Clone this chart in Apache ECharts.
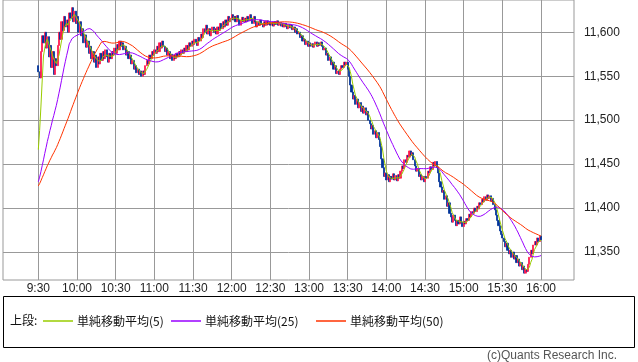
<!DOCTYPE html>
<html>
<head>
<meta charset="utf-8">
<script src="https://cdn.jsdelivr.net/npm/echarts@6/dist/echarts.min.js"></script>
<style>
html,body{margin:0;padding:0;background:#fff;}
#chart{width:638px;height:362px;}
</style>
</head>
<body>
<div id="chart"></div>
<script>
// x tick labels (every 30 minutes from 9:30)
const xTickLabels = ['9:30','10:00','10:30','11:00','11:30','12:00','12:30','13:00','13:30','14:00','14:30','15:00','15:30','16:00'];
const yTicks = [11350, 11400, 11450, 11500, 11550, 11600];
// previous session closes (used only for moving averages)
const prevCloses = [
11418,11421,11419,11423,11420,11417,11422,11424,11420,11418,
11421,11425,11422,11419,11416,11420,11423,11421,11418,11420,
11424,11422,11419,11421,11418,11420,11423,11425,11421,11419,
11417,11420,11422,11424,11421,11418,11420,11423,11421,11419,
11422,11420,11418,11421,11424,11440,11444,11448,11446];
const firstOpen = 11562;
// 1-minute closes, 9:30 .. 16:00
const closes = [
11555,11548,11578,11596,11588,11600,11582,11595,11572,11585,
11560,11578,11552,11570,11562,11585,11600,11592,11612,11602,
11618,11606,11614,11600,11622,11616,11628,11612,11624,11610,
11618,11600,11612,11596,11604,11588,11597,11583,11590,11576,
11584,11570,11578,11566,11574,11560,11572,11564,11576,11568,
11578,11570,11580,11572,11566,11576,11570,11578,11574,11582,
11576,11586,11580,11590,11584,11588,11580,11584,11574,11578,
11570,11574,11564,11568,11558,11562,11554,11558,11552,11556,
11550,11556,11552,11562,11568,11564,11574,11570,11578,11574,
11580,11576,11584,11578,11588,11582,11590,11584,11578,11582,
11574,11578,11570,11575,11568,11574,11570,11576,11572,11578,
11574,11580,11576,11582,11578,11585,11580,11588,11584,11590,
11586,11592,11588,11585,11594,11590,11598,11594,11604,11600,
11608,11598,11604,11596,11602,11606,11600,11604,11598,11606,
11602,11610,11604,11612,11606,11614,11608,11618,11612,11616,
11620,11614,11618,11612,11619,11615,11608,11614,11617,11612,
11616,11612,11618,11613,11620,11616,11610,11618,11612,11606,
11612,11608,11614,11609,11606,11612,11608,11613,11609,11612,
11608,11611,11607,11612,11609,11613,11608,11611,11607,11610,
11606,11610,11607,11604,11609,11605,11608,11603,11606,11600,
11604,11598,11600,11594,11596,11590,11592,11586,11590,11584,
11588,11584,11587,11583,11586,11589,11584,11588,11585,11589,
11584,11580,11582,11574,11576,11568,11572,11563,11566,11558,
11562,11553,11556,11552,11558,11562,11560,11566,11563,11566,
11558,11550,11540,11532,11524,11528,11518,11524,11514,11520,
11510,11516,11508,11514,11506,11510,11500,11496,11490,11494,
11484,11488,11480,11486,11478,11470,11456,11446,11436,11440,
11432,11438,11430,11436,11433,11439,11432,11437,11431,11438,
11434,11442,11448,11445,11455,11452,11460,11458,11465,11460,
11463,11455,11448,11442,11445,11436,11438,11432,11436,11430,
11436,11434,11442,11440,11447,11444,11452,11448,11453,11446,
11440,11430,11424,11418,11420,11410,11414,11402,11406,11394,
11390,11384,11392,11386,11380,11386,11382,11390,11384,11379,
11385,11382,11388,11386,11393,11390,11396,11394,11400,11396,
11402,11399,11406,11404,11410,11407,11413,11409,11415,11411,
11414,11408,11411,11404,11398,11392,11386,11380,11374,11370,
11366,11362,11356,11360,11352,11348,11352,11344,11350,11342,
11346,11338,11342,11334,11338,11330,11334,11326,11330,11328,
11336,11344,11352,11348,11358,11362,11358,11366,11362,11368,
11364];

const maNames = ['単純移動平均(5)', '単純移動平均(25)', '単純移動平均(50)'];
const maPeriods = [5, 25, 50];
const maColors = ['#99cc00', '#9900ff', '#ff3300'];

const allCloses = prevCloses.concat(closes);
function sma(n) {
  const off = prevCloses.length;
  return closes.map((c, i) => {
    let s = 0;
    for (let k = 0; k < n; k++) s += allCloses[off + i - k];
    return [i, s / n];
  });
}

const candles = closes.map((c, i) => {
  const o = i === 0 ? firstOpen : closes[i - 1];
  return [i, o, c, Math.min(o, c), Math.max(o, c)];
});

const xTickValues = xTickLabels.map((_, i) => i * 30);
const gridColor = '#999999';
const chart = echarts.init(document.getElementById('chart'), null, {renderer: 'canvas'});

const option = {
  animation: false,
  backgroundColor: '#ffffff',
  grid: {left: 3, right: 64, top: 0, bottom: 82, show: true, borderColor: gridColor, borderWidth: 1},
  xAxis: {
    type: 'value', min: -27.4, max: 415.6,
    axisLine: {show: false},
    axisTick: {show: false, customValues: xTickValues},
    splitLine: {show: true, lineStyle: {color: gridColor, width: 1}},
    axisLabel: {
      customValues: xTickValues, margin: 3, color: '#222',
      fontSize: 12, fontFamily: 'Liberation Sans, Arial, sans-serif',
      formatter: v => xTickLabels[Math.round(v / 30)] || ''
    }
  },
  yAxis: {
    type: 'value', position: 'right', min: 11318.2, max: 11636.7, scale: true,
    axisLine: {show: false},
    axisTick: {show: true, length: 6, customValues: yTicks, lineStyle: {color: gridColor}},
    splitLine: {show: true, lineStyle: {color: gridColor, width: 1}},
    axisLabel: {
      customValues: yTicks, margin: 10, color: '#222',
      fontSize: 12, fontFamily: 'Liberation Sans, Arial, sans-serif',
      formatter: v => v.toLocaleString('en-US')
    }
  },
  legend: maNames.map((n, k) => ({
    data: [n], left: [43, 171, 316][k], top: 315,
    icon: 'rect', itemWidth: 30, itemHeight: 1.5, itemGap: 0, padding: 0,
    textStyle: {fontSize: 12, color: '#111', fontFamily: 'Noto Sans CJK JP, sans-serif', padding: [0, 0, 0, -1]}
  })),
  graphic: [
    {type: 'rect', shape: {x: 3.5, y: 296.5, width: 631, height: 51}, style: {fill: 'none', stroke: '#000', lineWidth: 1}, silent: true},
    {type: 'text', left: 10, top: 314, style: {text: '上段:', fontSize: 12, fill: '#111', fontFamily: 'Noto Sans CJK JP, sans-serif'}},
    {type: 'text', right: 21, top: 350, style: {text: '(c)Quants Research Inc.', fontSize: 12, fill: '#555', fontFamily: 'Liberation Sans, Arial, sans-serif'}}
  ],
  series: [
    {
      type: 'candlestick', name: 'price', data: candles,
      encode: {x: 0, y: [1, 2, 3, 4]},
      barWidth: 1.6,
      itemStyle: {color: '#ff1a4f', color0: '#003399', borderColor: '#ff1a4f', borderColor0: '#003399', borderWidth: 0.8}
    }
  ].concat(maPeriods.map((p, k) => ({
    type: 'line', name: maNames[k], data: sma(p), showSymbol: false, symbol: 'none',
    lineStyle: {color: maColors[k], width: 1}, itemStyle: {color: maColors[k]}, z: 3
  })))
};
chart.setOption(option);
</script>
</body>
</html>
